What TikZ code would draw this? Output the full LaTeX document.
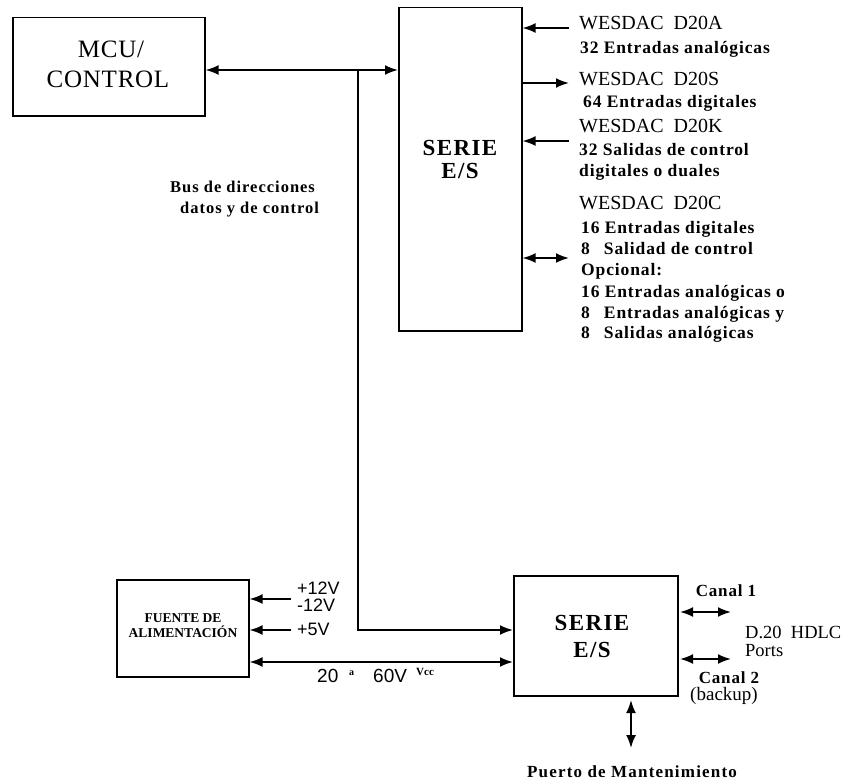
\documentclass[tikz,border=0pt]{standalone}
\usepackage{fontspec}
\setmainfont{Liberation Serif}
\newfontfamily\arialfont{Liberation Sans}
\usetikzlibrary{arrows.meta}
\tikzset{
 blk/.style={draw, line width=1.5pt, inner sep=0pt, anchor=north west},
 con/.style={line width=1.9pt},
 arr/.style={con, -{Latex[length=13pt,width=10pt]}},
 dbl/.style={con, {Latex[length=13pt,width=10pt]}-{Latex[length=13pt,width=10pt]}},
 lbl/.style={inner sep=0pt, anchor=base west},
 ctr/.style={inner sep=0pt, anchor=base},
 big/.style={font=\fontsize{25}{27}\selectfont\addfontfeature{LetterSpace=3}},
 ser/.style={font=\fontsize{23}{25}\selectfont\bfseries\addfontfeature{LetterSpace=6}},
 wes/.style={lbl, font=\fontsize{20}{22}\selectfont},
 bl/.style={lbl, font=\fontsize{17.5}{20}\selectfont\bfseries\addfontfeature{LetterSpace=5}},
 volt/.style={lbl, font=\fontsize{18}{20}\selectfont\arialfont},
 small/.style={font=\fontsize{13.5}{15}\selectfont\bfseries},
}
\begin{document}
\begin{tikzpicture}[x=1pt,y=-1pt]
\useasboundingbox (0,0) rectangle (859,784);
% boxes
\node[blk, minimum width=192pt, minimum height=98pt] (mcu) at (12,17) {};
\node[blk, minimum width=123pt, minimum height=323pt] (serie1) at (398,7) {};
\node[blk, minimum width=164pt, minimum height=120pt] (serie2) at (513,575) {};
\node[blk, minimum width=132pt, minimum height=97pt] (fuente) at (116,579) {};
% box texts
\node[ctr, big] (mcut1) at (111,58) {MCU/};
\node[ctr, big] (mcut2) at (108,87) {CONTROL};
\node[ctr, ser] (s1t1) at (460,155) {SERIE};
\node[ctr, ser] (s1t2) at (460,178) {E/S};
\node[ctr, ser] (s2t1) at (592,630) {SERIE};
\node[ctr, ser] (s2t2) at (592,657) {E/S};
\node[ctr, small] (ft1) at (183,622) {FUENTE DE};
\node[ctr, small] (ft2) at (183,637) {ALIMENTACIÓN};
% bus
\coordinate (bustop) at (358,70);
\coordinate (busbot) at (358,630);
\draw[dbl] (mcu.east |- bustop) -- (serie1.west |- bustop);
\draw[arr] (bustop) -- (busbot) -- (serie2.west |- busbot);
\node[lbl, font=\fontsize{16.5}{19}\selectfont\bfseries\addfontfeature{LetterSpace=6}] (bus1) at (170,192) {Bus de direcciones};
\node[lbl, font=\fontsize{16.5}{19}\selectfont\bfseries\addfontfeature{LetterSpace=6}] (bus2) at (180,213) {datos y de control};
% right side arrows
\coordinate (ea) at (569,28);
\coordinate (es) at (569,83);
\coordinate (ek) at (569,141);
\coordinate (ec) at (569,258);
\draw[arr] (ea) -- (serie1.east |- ea);
\draw[arr] (serie1.east |- es) -- (es);
\draw[arr] (ek) -- (serie1.east |- ek);
\draw[dbl] (serie1.east |- ec) -- (ec);
% right side texts
\node[wes] (wa) at (579,30) {WESDAC\ \ D20A};
\node[bl] (wa1) at (580,53) {32 Entradas analógicas};
\node[wes] (ws) at (579,85) {WESDAC\ \ D20S};
\node[bl] (ws1) at (583,107) {64 Entradas digitales};
\node[wes] (wk) at (579,132) {WESDAC\ \ D20K};
\node[bl] (wk1) at (579,155) {32 Salidas de control};
\node[bl] (wk2) at (579,176) {digitales o duales};
\node[wes] (wc) at (579,209) {WESDAC\ \ D20C};
\node[bl] (wc1) at (581,233) {16 Entradas digitales};
\node[bl] (wc2) at (581,254) {8\hphantom{6} Salidad de control};
\node[bl] (wc3) at (581,275) {Opcional:};
\node[bl] (wc4) at (581,297) {16 Entradas analógicas o};
\node[bl] (wc5) at (581,318) {8\hphantom{6} Entradas analógicas y};
\node[bl] (wc6) at (581,338) {8\hphantom{6} Salidas analógicas};
% power supply
\coordinate (p12) at (291,599);
\coordinate (p5) at (291,630);
\coordinate (pv) at (250,662);
\draw[arr] (p12) -- (fuente.east |- p12);
\draw[arr] (p5) -- (fuente.east |- p5);
\draw[dbl] (fuente.east |- pv) -- (serie2.west |- pv);
\node[volt] (v1) at (297,594) {+12V};
\node[volt] (v2) at (297,611) {-12V};
\node[volt] (v3) at (297,635) {+5V};
\node[volt, font=\fontsize{19}{21}\selectfont\arialfont] (v4) at (317,682) {20};
\node[lbl, font=\fontsize{10}{11}\selectfont\bfseries] (v5) at (349,675) {a};
\node[volt, font=\fontsize{19}{21}\selectfont\arialfont] (v6) at (373,682) {60V};
\node[lbl, font=\fontsize{11}{12}\selectfont\bfseries] (v7) at (416,675) {Vcc};
% channels
\coordinate (c1a) at (680,612);
\coordinate (c1b) at (731,612);
\coordinate (c2a) at (680,659);
\coordinate (c2b) at (731,659);
\draw[dbl] (c1a) -- (c1b);
\draw[dbl] (c2a) -- (c2b);
\node[ctr, font=\fontsize{17}{19}\selectfont\bfseries\addfontfeature{LetterSpace=5}] (ch1) at (726,596) {Canal 1};
\node[ctr, font=\fontsize{17}{19}\selectfont\bfseries\addfontfeature{LetterSpace=5}] (ch2) at (729,683) {Canal 2};
\node[ctr, font=\fontsize{19}{21}\selectfont] (ch3) at (724,700) {(backup)};
\node[lbl, font=\fontsize{18.5}{21}\selectfont] (hd1) at (745,638) {D.20\ \ HDLC};
\node[lbl, font=\fontsize{18.5}{21}\selectfont] (hd2) at (745,656) {Ports};
% maintenance
\coordinate (mt) at (631,700);
\coordinate (mb) at (631,748);
\draw[dbl] (mt) -- (mb);
\node[ctr, font=\fontsize{17}{19}\selectfont\bfseries\addfontfeature{LetterSpace=7}] (pm) at (632,777) {Puerto de Mantenimiento};
\end{tikzpicture}
\end{document}
